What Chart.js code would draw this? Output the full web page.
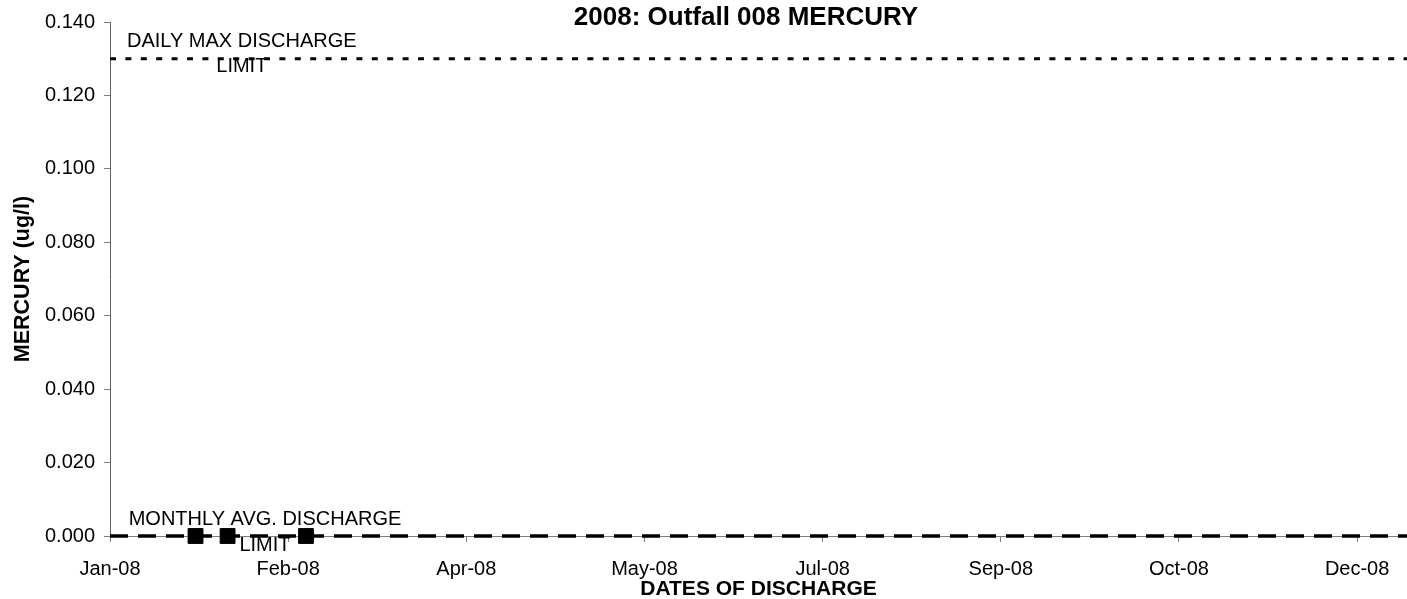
<!DOCTYPE html>
<html>
<head>
<meta charset="utf-8">
<script src="https://cdn.jsdelivr.net/npm/chart.js@4.4.0/dist/chart.umd.min.js"></script>
<style>
    html, body { margin: 0; padding: 0; background: #fff; overflow: hidden; }
    #MercuryChart { display: block; }
</style>
</head>
<body>
<canvas id="MercuryChart" width="1407" height="599"></canvas>
<script>
// sample dates and results (ug/l)
const sampleDates = ["2008-01-25", "2008-02-03", "2008-02-25"];
const mercuryValues = [0.0, 0.0, 0.0];

// permit limits
const dailyMaxLimit = 0.13;
const monthlyAvgLimit = 0.0;

// axis range (days after Jan 1 2008) and y ticks
const xMinDay = 0;
const xMaxDay = 364;
const xStepDays = 50;
const yTicks = [0, 0.02, 0.04, 0.06, 0.08, 0.1, 0.12, 0.14];

const monthNames = ["Jan", "Feb", "Mar", "Apr", "May", "Jun", "Jul", "Aug", "Sep", "Oct", "Nov", "Dec"];
const yearStart = new Date(2008, 0, 1);

function dayOfYear(str) {
    const p = str.split("-");
    const d = new Date(+p[0], +p[1] - 1, +p[2]);
    return Math.round((d - yearStart) / 86400000);
}

function dayLabel(day) {
    const d = new Date(2008, 0, 1 + day);
    return monthNames[d.getMonth()] + "-" + String(d.getFullYear()).slice(2);
}

const FONT = "'Liberation Sans', Arial, sans-serif";

// labels sitting on the limit lines
const limitLabels = [
    { day: 37, value: dailyMaxLimit, lines: ["DAILY MAX DISCHARGE", "LIMIT"], dy: [-12, 13] },
    { day: 43.5, value: monthlyAvgLimit, lines: ["MONTHLY AVG. DISCHARGE", "LIMIT"], dy: [-11, 15] },
];

const labelPlugin = {
    id: "labelPlugin",
    afterDraw(chart) {
        const ctx = chart.ctx;
        const xs = chart.scales.x;
        const ys = chart.scales.y;
        ctx.save();
        ctx.fillStyle = "#000";
        ctx.textAlign = "center";
        ctx.textBaseline = "alphabetic";
        ctx.font = "20px " + FONT;
        limitLabels.forEach((l) => {
            const px = xs.getPixelForValue(l.day);
            const py = ys.getPixelForValue(l.value);
            l.lines.forEach((t, i) => ctx.fillText(t, px, py + l.dy[i]));
        });
        // chart title
        ctx.font = "bold 26px " + FONT;
        ctx.fillText("2008: Outfall 008 MERCURY", 746, 25);
        ctx.restore();
    },
};

function MercuryChart() {
    const ctx = document.getElementById("MercuryChart");

    new Chart(ctx, {
        type: "scatter",
        data: {
            datasets: [
                {
                    label: "MERCURY",
                    data: sampleDates.map((d, i) => ({ x: dayOfYear(d), y: mercuryValues[i] })),
                    backgroundColor: "#000",
                    borderColor: "#000",
                    pointStyle: "rect",
                    pointRadius: 10.5,
                    pointHoverRadius: 10.5,
                    showLine: false,
                    clip: false,
                },
                {
                    label: "DAILY MAX DISCHARGE LIMIT",
                    type: "line",
                    data: [{ x: xMinDay, y: dailyMaxLimit }, { x: xMaxDay, y: dailyMaxLimit }],
                    borderColor: "#000",
                    borderWidth: 3,
                    borderDash: [6, 9.4],
                    pointRadius: 0,
                    clip: false,
                },
                {
                    label: "MONTHLY AVG. DISCHARGE LIMIT",
                    type: "line",
                    data: [{ x: xMinDay, y: monthlyAvgLimit }, { x: xMaxDay, y: monthlyAvgLimit }],
                    borderColor: "#000",
                    borderWidth: 3.5,
                    borderDash: [18, 10],
                    pointRadius: 0,
                    clip: false,
                },
            ],
        },
        options: {
            responsive: false,
            animation: false,
            layout: {
                autoPadding: false,
                padding: { top: 22, left: 0, right: 0, bottom: 0 },
            },
            scales: {
                x: {
                    type: "linear",
                    min: xMinDay,
                    max: xMaxDay,
                    afterFit: (scale) => {
                        scale.height = 63;
                        scale.paddingLeft = 0;
                        scale.paddingRight = 0;
                    },
                    ticks: {
                        stepSize: xStepDays,
                        includeBounds: false,
                        color: "#000",
                        padding: 15,
                        maxRotation: 0,
                        font: { family: FONT, size: 20 },
                        callback: (v) => dayLabel(v),
                    },
                    grid: {
                        display: true,
                        drawOnChartArea: false,
                        tickLength: 6,
                        color: "#808080",
                    },
                    border: { color: "#808080", width: 1 },
                    title: {
                        display: true,
                        text: "DATES OF DISCHARGE",
                        color: "#000",
                        padding: { top: 0, bottom: -1 },
                        font: { family: FONT, size: 21, weight: "bold", lineHeight: 1 },
                    },
                },
                y: {
                    min: 0,
                    max: 0.14,
                    afterFit: (scale) => { scale.width = 110; },
                    afterBuildTicks: (scale) => { scale.ticks = yTicks.map((v) => ({ value: v })); },
                    ticks: {
                        color: "#000",
                        padding: 9,
                        font: { family: FONT, size: 20 },
                        callback: (v) => v.toFixed(3),
                    },
                    grid: {
                        display: true,
                        drawOnChartArea: false,
                        tickLength: 6,
                        color: "#808080",
                    },
                    border: { color: "#606060", width: 1 },
                    title: {
                        display: true,
                        text: "MERCURY (ug/l)",
                        color: "#000",
                        padding: { top: 12, bottom: 0 },
                        font: { family: FONT, size: 21.5, weight: "bold", lineHeight: 1 },
                    },
                },
            },
            plugins: {
                legend: { display: false },
                title: { display: false },
                tooltip: { enabled: false },
            },
        },
        plugins: [labelPlugin],
    });
}

MercuryChart();
</script>
</body>
</html>
